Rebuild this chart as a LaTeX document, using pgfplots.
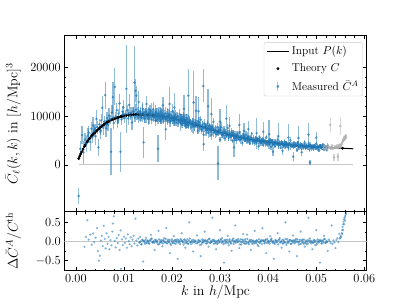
\RequirePackage{fix-cm}
\documentclass[border=0pt]{standalone}
\usepackage{fontspec}
\usepackage{pgfplots}
\pgfplotsset{compat=1.18}
\usepackage{pgfplotstable}
\definecolor{mplblue}{RGB}{31,119,180}

\pgfplotstableread{
k T
0.0006 1300
0.0008 1800
0.0010 2250
0.0012 2650
0.0015 3250
0.0020 4150
0.0025 4950
0.0030 5600
0.0035 6200
0.0040 6700
0.0045 7150
0.0050 7600
0.0055 8000
0.0060 8380
0.0065 8730
0.0070 9050
0.0075 9280
0.0080 9470
0.0085 9640
0.0090 9810
0.0095 9950
0.0100 10070
0.0110 10230
0.0120 10320
0.0130 10340
0.0140 10300
0.0150 10240
0.0160 10170
0.0170 10080
0.0180 9970
0.0190 9820
0.0200 9620
0.0210 9400
0.0220 9100
0.0230 8780
0.0240 8470
0.0250 8160
0.0260 7860
0.0270 7560
0.0280 7280
0.0290 7000
0.0300 6720
0.0310 6440
0.0320 6160
0.0330 5900
0.0340 5680
0.0350 5470
0.0360 5280
0.0370 5100
0.0380 4940
0.0390 4790
0.0400 4640
0.0410 4500
0.0420 4370
0.0430 4250
0.0440 4140
0.0450 4040
0.0460 3950
0.0470 3870
0.0480 3800
0.0490 3740
0.0500 3690
0.0510 3640
0.0520 3590
0.0530 3540
0.0540 3490
0.0550 3440
0.0560 3390
0.0570 3340
0.0577 3300
}\theory

\pgfplotstableread{
k T
0.0006 1300
0.0008 1800
0.0010 2250
0.0012 2650
0.0015 3250
0.0018 3800
0.0020 4150
0.0023 4650
0.0025 4950
0.0028 5350
0.0030 5600
0.0033 5960
0.0035 6200
0.0038 6500
0.0040 6700
0.0043 6970
0.0045 7150
0.0048 7420
0.0050 7600
0.0053 7840
0.0055 8000
0.0058 8240
0.0060 8380
0.0063 8590
0.0065 8730
0.0068 8920
0.0070 9050
0.0073 9190
0.0075 9280
0.0078 9400
0.0080 9470
0.0083 9570
0.0085 9640
0.0088 9740
0.0090 9810
0.0093 9890
0.0095 9950
0.0098 10020
0.0100 10070
0.0105 10150
0.0110 10230
0.0115 10280
0.0120 10320
0.0125 10335
0.0130 10340
0.0135 10320
0.0140 10300
0.0150 10240
0.0160 10170
0.0555 3420
}\theorydots

\pgfplotstableread{
k v e
0.0006 -6400 1700
0.0009 3300 1500
0.0013 6100 1900
0.0016 2600 2400
0.0019 5200 1400
0.0022 4300 1600
0.0025 6000 1500
0.0027 6600 1300
0.0030 4700 1800
0.0032 7400 1500
0.0034 5600 1200
0.0036 8100 1700
0.0038 6900 1100
0.0040 7300 1000
0.0041 5900 1900
0.0043 9400 1800
0.0045 7700 1300
0.0047 3600 1700
0.0049 8300 1200
0.0051 6800 1500
0.0052 7100 900
0.0053 9100 1300
0.0055 11700 2500
0.0057 7600 1400
0.0059 8900 1100
0.0061 14300 2800
0.0063 7500 1800
0.0064 8300 1000
0.0065 9600 1200
0.0067 8200 1300
0.0069 10100 1500
0.0071 9300 900
0.0073 2700 4800
0.0075 10700 1500
0.0077 13900 3200
0.0078 9700 900
0.0079 8600 1200
0.0081 16000 3800
0.0083 9900 1000
0.0085 11200 1400
0.0087 8800 1300
0.0088 9200 800
0.0089 10500 900
0.0091 12600 2000
0.0093 2700 4100
0.0095 9300 1100
0.0097 10900 1200
0.0098 10300 800
0.0099 11800 1600
0.0101 9600 1000
0.0103 10400 900
0.0105 15600 9000
0.0107 11200 1100
0.0109 9500 1300
0.0110 10600 900
0.0111 12300 2200
0.0113 10000 800
0.0115 10700 1100
0.0117 8700 1500
0.0119 11000 900
0.01205 10900 1000
0.0122 16900 7500
0.0123 9700 900
0.0124 15200 2400
0.0125 11300 1200
0.0126 14200 2000
0.0127 10100 800
0.0129 10800 1100
0.0130 9600 1000
0.0131 12900 2300
0.0132 10500 700
0.0134 11000 900
0.0135 9800 1100
0.0137 10300 800
0.0139 11500 1300
0.0141 4600 3200
0.0142 10200 900
0.0144 9500 1000
0.0146 10900 800
0.0147 12500 1600
0.0149 10000 700
0.0151 9400 1200
0.0152 10700 900
0.0154 11300 1000
0.0156 10100 700
0.0157 9300 1000
0.0159 10600 800
0.0161 11400 1500
0.0162 9800 700
0.0164 10300 900
0.0166 9100 1100
0.0167 10800 800
0.0169 10000 700
0.0171 3300 2800
0.0172 10500 900
0.0174 9600 800
0.0176 10900 1000
0.0177 9200 900
0.0179 10200 700
0.0181 12200 1800
0.0182 9700 800
0.0184 10400 900
0.0186 9400 700
0.0187 7300 2200
0.0189 10100 1000
0.0191 9100 800
0.0192 10500 900
0.0194 9800 700
0.0195 12500 3500
0.0196 8800 1000
0.0197 10300 800
0.0199 9500 700
0.0201 11000 1500
0.0202 9200 800
0.0204 9900 900
0.0205 11800 3000
0.0206 8700 700
0.0207 10200 1000
0.0209 9300 800
0.0211 8600 900
0.0212 9900 700
0.0214 9000 800
0.0216 10400 1100
0.0217 8800 700
0.0219 9500 900
0.0221 8400 800
0.0222 9300 700
0.0224 9900 1000
0.0225 11500 2800
0.0226 8500 800
0.0227 9100 700
0.0229 8200 900
0.0231 9400 1000
0.0232 8600 700
0.0234 14200 5500
0.0235 8100 800
0.0237 9000 900
0.0239 8500 700
0.0240 7700 900
0.0242 8900 800
0.0244 8200 700
0.0245 12800 6500
0.0247 7900 900
0.0249 8600 800
0.0250 11100 3000
0.0252 8390 810
0.0254 6980 560
0.0255 11000 3000
0.0256 8750 1040
0.0258 7730 630
0.0260 9270 860
0.0262 7140 470
0.0264 7830 1160
0.0265 16200 3400
0.0266 6200 690
0.0266 4250 1300
0.0268 8440 910
0.0270 7920 530
0.0272 7050 750
0.0274 8520 600
0.0275 12000 3500
0.0276 6590 1030
0.0278 7860 730
0.0280 7190 510
0.0282 6100 940
0.0282 10400 3400
0.0284 7770 570
0.0286 8820 780
0.0288 6720 420
0.0290 7170 1050
0.0292 6280 620
0.0294 7720 830
0.0296 6590 480
0.0296 300 3500
0.0298 7180 680
0.0300 5190 540
0.0300 8900 2500
0.0302 7780 930
0.0304 6130 660
0.0306 6550 460
0.0308 7200 840
0.0310 5510 520
0.0312 6610 700
0.0313 9500 2700
0.0314 5950 380
0.0316 7550 940
0.0318 5550 560
0.0320 6460 740
0.0320 8000 1800
0.0322 5960 430
0.0324 6860 610
0.0326 4920 480
0.0328 6380 830
0.0329 3560 1900
0.0330 5400 590
0.0332 6070 410
0.0334 5050 760
0.0336 6320 460
0.0338 5590 630
0.0340 6700 340
0.0340 8200 2200
0.0342 5160 850
0.0344 5660 500
0.0346 4490 670
0.0348 6110 390
0.0350 5730 550
0.0350 7000 1500
0.0352 5110 430
0.0354 6170 760
0.0356 4780 540
0.0358 5700 370
0.0359 7330 1700
0.0360 5220 690
0.0362 4430 420
0.0364 5650 570
0.0366 6410 310
0.0368 4890 770
0.0370 5220 460
0.0372 4580 610
0.0374 5640 350
0.0376 4820 500
0.0376 6500 3200
0.0378 5270 400
0.0380 3810 690
0.0382 5740 490
0.0384 4530 340
0.0386 4850 630
0.0388 5340 390
0.0390 4100 530
0.0390 6800 2000
0.0392 4930 290
0.0394 4450 710
0.0396 5660 420
0.0398 4170 560
0.0400 4860 330
0.0402 4500 460
0.0402 6300 3000
0.0404 5190 370
0.0406 3740 640
0.0408 4850 450
0.0410 4120 320
0.0410 2700 900
0.0412 4640 580
0.0414 3860 360
0.0416 4850 490
0.0418 4290 260
0.0420 5160 660
0.0421 5900 2600
0.0422 3980 390
0.0424 4370 520
0.0426 3470 300
0.0428 4740 430
0.0430 4450 340
0.0430 2900 800
0.0432 3970 590
0.0434 4810 420
0.0436 3730 290
0.0438 4460 540
0.0440 4090 330
0.0442 3480 450
0.0442 5600 2800
0.0444 4440 250
0.0446 5060 610
0.0448 3870 370
0.0450 4140 490
0.0452 3640 280
0.0452 1700 900
0.0454 4480 400
0.0456 3840 320
0.0458 4210 560
0.0460 3050 400
0.0462 4600 280
0.0463 5500 2500
0.0464 3640 510
0.0466 3900 310
0.0468 4310 430
0.0470 3310 230
0.0470 2600 700
0.0472 4000 580
0.0474 3610 350
0.0476 4610 460
0.0478 3400 270
0.0480 3980 380
0.0482 3700 300
0.0484 4270 530
0.0484 6200 2300
0.0486 3090 380
0.0487 470 500
0.0488 4020 260
0.0490 3430 490
0.0492 3860 300
0.0494 3230 410
0.0496 4070 220
0.0498 3610 560
0.0500 4350 330
0.0500 5600 1200
0.0502 3370 440
0.0504 3710 260
0.0506 2960 370
0.0508 4040 290
0.0510 3820 510
0.0512 3410 360
0.0514 4140 250
0.0516 3220 470
0.0518 3860 290
0.0520 3550 400
0.0522 3020 220
0.0524 3870 540
}\measured

\pgfplotstableread{
k v e r
0.0133 10040 990 -0.028
0.0135 10360 1360 0.004
0.0137 9650 740 -0.064
0.0139 10680 1850 0.036
0.0141 10460 1110 0.016
0.0143 10080 1480 -0.020
0.0145 10760 860 0.048
0.0147 9890 1230 -0.036
0.0149 10490 980 0.024
0.0151 10190 1720 -0.004
0.0153 9690 1230 -0.052
0.0155 10490 860 0.028
0.0157 11010 1590 0.080
0.0159 10010 980 -0.016
0.0161 10240 1340 0.008
0.0163 9820 730 -0.032
0.0165 10530 1820 0.040
0.0167 9990 1090 -0.012
0.0169 10290 1450 0.020
0.0171 9300 850 -0.076
0.0173 10610 1210 0.056
0.0175 9780 960 -0.024
0.0177 10000 1680 0.000
0.0179 10340 1200 0.036
0.0181 9480 840 -0.048
0.0183 10040 1550 0.012
0.0185 9700 950 -0.020
0.0187 10540 1300 0.068
0.0189 9480 710 -0.036
0.0191 9960 1760 0.016
0.0193 9680 1050 -0.008
0.0195 10150 1400 0.044
0.0197 9100 810 -0.060
0.0199 9870 1160 0.024
0.0201 9330 920 -0.028
0.0203 9670 1600 0.012
0.0205 9090 1140 -0.044
0.0207 9770 800 0.032
0.0209 9350 1470 -0.008
0.0211 9930 900 0.060
0.0213 9050 1230 -0.028
0.0215 9290 670 0.004
0.0217 8600 1650 -0.064
0.0219 9460 990 0.036
0.0221 9210 1310 0.016
0.0223 8820 760 -0.020
0.0225 9370 1070 0.048
0.0227 8560 850 -0.036
0.0229 9020 1480 0.024
0.0231 8710 1050 -0.004
0.0233 8240 730 -0.052
0.0235 8870 1350 0.028
0.0237 9250 820 0.080
0.0239 8370 1120 -0.016
0.0241 8510 610 0.008
0.0243 8110 1510 -0.032
0.0245 8650 900 0.040
0.0247 8150 1190 -0.012
0.0249 8360 690 0.020
0.0253 7810 1450 -0.032
0.0255 8330 870 0.040
0.0257 7860 1140 -0.012
0.0259 8050 660 0.020
0.0261 7240 940 -0.076
0.0263 8200 750 0.056
0.0265 7530 1300 -0.024
0.0267 7650 920 0.000
0.0269 7860 640 0.036
0.0271 7170 1180 -0.048
0.0273 7570 720 0.012
0.0275 7270 980 -0.020
0.0277 7870 530 0.068
0.0279 7050 1320 -0.036
0.0281 7370 780 0.016
0.0283 7140 1040 -0.008
0.0285 7450 600 0.044
0.0287 6660 850 -0.060
0.0289 7200 670 0.024
0.0291 6780 1170 -0.028
0.0293 7000 830 0.012
0.0295 6560 580 -0.044
0.0297 7020 1060 0.032
0.0299 6690 650 -0.008
0.0301 7090 880 0.060
0.0303 6450 480 -0.028
0.0305 6610 1180 0.004
0.0307 6110 700 -0.064
0.0309 6700 930 0.036
0.0311 6520 540 0.016
0.0313 6230 760 -0.020
0.0315 6600 600 0.048
0.0317 6020 1050 -0.036
0.0319 6340 740 0.024
0.0321 6110 520 -0.004
0.0323 5770 950 -0.052
0.0325 6200 580 0.028
0.0327 6460 790 0.080
0.0329 5830 430 -0.016
0.0331 5930 1060 0.008
0.0333 5650 630 -0.032
0.0335 6020 830 0.040
0.0337 5680 480 -0.012
0.0339 5820 680 0.020
0.0341 5230 540 -0.076
0.0343 5930 940 0.056
0.0345 5440 670 -0.024
0.0347 5530 460 0.000
0.0349 5690 860 0.036
0.0351 5190 520 -0.048
0.0353 5480 710 0.012
0.0355 5270 390 -0.020
0.0357 5700 960 0.068
0.0359 5110 570 -0.036
0.0361 5350 760 0.016
0.0363 5180 440 -0.008
0.0365 5420 620 0.044
0.0367 4850 490 -0.060
0.0369 5240 860 0.024
0.0371 4940 610 -0.028
0.0373 5110 420 0.012
0.0375 4800 780 -0.044
0.0377 5150 480 0.032
0.0379 4920 650 -0.008
0.0381 5220 350 0.060
0.0383 4760 880 -0.028
0.0385 4880 530 0.004
0.0387 4530 700 -0.064
0.0389 4980 400 0.036
0.0391 4850 570 0.016
0.0393 4650 460 -0.020
0.0395 4940 790 0.048
0.0397 4520 560 -0.036
0.0399 4770 390 0.024
0.0401 4610 720 -0.004
0.0403 4360 440 -0.052
0.0405 4700 600 0.028
0.0407 4910 330 0.080
0.0409 4440 810 -0.016
0.0411 4520 480 0.008
0.0413 4320 640 -0.032
0.0415 4610 370 0.040
0.0417 4360 530 -0.012
0.0419 4470 420 0.020
0.0421 4030 730 -0.076
0.0423 4580 520 0.056
0.0425 4210 360 -0.024
0.0427 4290 670 0.000
0.0429 4420 410 0.036
0.0431 4040 560 -0.048
0.0433 4270 300 0.012
0.0435 4110 760 -0.020
0.0437 4460 450 0.068
0.0439 4000 600 -0.036
0.0441 4200 350 0.016
0.0443 4080 490 -0.008
0.0445 4270 390 0.044
0.0447 3830 680 -0.060
0.0449 4150 490 0.024
0.0451 3920 340 -0.028
0.0453 4060 630 0.012
0.0455 3820 380 -0.044
0.0457 4100 530 0.032
0.0459 3930 290 -0.008
0.0461 4180 710 0.060
0.0463 3820 420 -0.028
0.0465 3930 560 0.004
0.0467 3650 330 -0.064
0.0469 4020 470 0.036
0.0471 3930 370 0.016
0.0473 3770 650 -0.020
0.0475 4020 460 0.048
0.0477 3680 320 -0.036
0.0479 3900 590 0.024
0.0481 3780 360 -0.004
0.0483 3590 500 -0.052
0.0485 3880 270 0.028
0.0487 4060 680 0.080
0.0489 3690 400 -0.016
0.0491 3770 540 0.008
0.0493 3610 310 -0.032
0.0495 3860 450 0.040
0.0497 3660 360 -0.012
0.0499 3770 620 0.020
0.0501 3410 440 -0.076
0.0503 3880 310 0.056
0.0505 3580 570 -0.024
0.0507 3660 350 0.000
0.0509 3780 480 0.036
0.0511 3460 260 -0.048
0.0513 3670 650 0.012
0.0515 3540 390 -0.020
0.0517 3850 520 0.068
0.0519 3470 300 -0.036
0.0521 3640 430 0.016
0.0523 3550 340 -0.008
}\measuredB

\pgfplotstableread{
k v e
0.0515 3400 300
0.0517 3900 400
0.0519 3300 250
0.0521 3700 350
0.0523 3200 300
0.0525 3800 400
0.0527 3500 300
0.0529 8200 1500
0.0529 3600 350
0.0531 3300 300
0.0533 3900 400
0.0535 3400 300
0.0537 1500 700
0.0539 3700 350
0.0541 3500 300
0.0543 3800 400
0.0545 3600 300
0.0545 1700 800
0.0547 3900 400
0.0549 4100 350
0.0550 8000 1800
0.0551 3800 500
0.0553 4300 400
0.0554 4600 450
0.0555 4900 400
0.0556 5200 500
0.0557 5000 400
0.0558 5500 450
0.0559 5300 500
0.0560 5700 500
0.0561 5600 450
0.0562 5900 500
}\masked

\pgfplotstableread{
k r
0.0018 -0.14
0.0021 0.12
0.0024 0.56
0.0027 0.05
0.0030 0.18
0.0033 -0.08
0.0036 0.21
0.0038 -0.02
0.0041 0.10
0.0044 0.35
0.0046 -0.25
0.0048 -0.50
0.0050 -0.37
0.0052 0.03
0.0054 0.15
0.0056 -0.12
0.0058 0.41
0.0060 0.07
0.0062 -0.18
0.0064 0.22
0.0066 -0.06
0.0068 0.12
0.0070 -0.20
0.0072 0.04
0.0074 -0.10
0.0076 0.26
0.0077 0.47
0.0079 0.66
0.0081 0.02
0.0083 -0.15
0.0085 0.09
0.0087 -0.04
0.0089 0.17
0.0091 -0.22
0.0093 0.29
0.0094 -0.71
0.0096 0.06
0.0098 -0.09
0.0100 0.13
0.0102 -0.03
0.0104 0.08
0.0106 -0.16
0.0108 0.19
0.0110 0.01
0.0112 -0.07
0.0114 0.11
0.0116 -0.12
0.0118 0.05
0.0120 0.15
0.0122 -0.05
0.0124 0.60
0.0126 0.03
0.0128 -0.10
0.0130 0.08
0.0132 -0.02
0.0134 0.12
0.0136 -0.08
0.0138 0.05
0.0140 -0.52
0.0142 0.02
0.0144 -0.06
0.0146 0.10
0.0148 -0.03
0.0150 0.02
0.0152 -0.05
0.0154 0.04
0.0156 0.18
0.0158 0.07
0.0160 -0.03
0.0162 0.00
0.0164 -0.22
0.0166 0.05
0.0168 0.01
0.0170 -0.04
0.0172 0.28
0.0174 -0.06
0.0176 0.03
0.0178 -0.02
0.0180 -0.12
0.0182 0.04
0.0184 0.09
0.0186 -0.01
0.0188 0.35
0.0190 -0.05
0.0192 0.05
0.0194 -0.02
0.0196 -0.30
0.0198 -0.09
0.0200 0.06
0.0202 -0.03
0.0204 0.14
0.0206 0.04
0.0208 -0.06
0.0210 0.02
0.0212 -0.45
0.0214 0.04
0.0216 -0.01
0.0218 0.07
0.0220 0.22
0.0222 0.00
0.0224 -0.08
0.0226 0.05
0.0228 -0.16
0.0230 -0.04
0.0232 0.06
0.0234 -0.06
0.0236 0.50
0.0238 -0.02
0.0240 -0.07
0.0242 0.04
0.0244 -0.26
0.0246 -0.01
0.0248 0.02
0.0250 -0.05
0.0252 0.16
0.0254 -0.02
0.0256 0.03
0.0258 -0.09
0.0260 -0.38
0.0262 -0.03
0.0264 0.01
0.0266 0.04
0.0268 0.26
0.0270 0.02
0.0272 -0.05
0.0274 0.04
0.0276 -0.13
0.0278 0.07
0.0280 -0.03
0.0282 0.00
0.0284 0.62
0.0286 0.05
0.0288 0.01
0.0290 -0.04
0.0292 -0.20
0.0294 -0.06
0.0296 0.03
0.0298 -0.02
0.0300 0.30
0.0302 0.04
0.0304 0.09
0.0306 -0.01
0.0308 -0.55
0.0310 -0.05
0.0312 0.05
0.0314 -0.02
0.0316 0.15
0.0318 -0.09
0.0320 0.06
0.0322 -0.03
0.0324 -0.24
0.0326 0.04
0.0328 -0.06
0.0330 0.02
0.0332 0.42
0.0334 0.04
0.0336 -0.01
0.0338 0.07
0.0340 -0.17
0.0342 0.00
0.0344 -0.08
0.0346 0.05
0.0348 0.20
0.0350 -0.04
0.0352 0.06
0.0354 -0.06
0.0356 0.18
0.0358 -0.02
0.0360 -0.07
0.0362 0.04
0.0364 -0.22
0.0366 -0.01
0.0368 0.02
0.0370 -0.05
0.0372 0.28
0.0374 -0.02
0.0376 0.03
0.0378 -0.09
0.0380 -0.12
0.0382 -0.03
0.0384 0.01
0.0386 0.04
0.0388 0.35
0.0390 0.02
0.0392 -0.05
0.0394 0.04
0.0396 -0.30
0.0398 0.07
0.0400 -0.03
0.0402 0.00
0.0404 0.14
0.0406 0.05
0.0408 0.01
0.0410 -0.04
0.0412 -0.45
0.0414 -0.06
0.0416 0.03
0.0418 -0.02
0.0420 0.22
0.0422 0.04
0.0424 0.09
0.0426 -0.01
0.0428 -0.16
0.0430 -0.05
0.0432 0.05
0.0434 -0.02
0.0436 0.50
0.0438 -0.09
0.0440 0.06
0.0442 -0.03
0.0444 -0.26
0.0446 0.04
0.0448 -0.06
0.0450 0.02
0.0452 0.16
0.0454 0.04
0.0456 -0.01
0.0458 0.07
0.0460 -0.38
0.0462 0.00
0.0464 -0.08
0.0466 0.05
0.0468 0.26
0.0470 -0.04
0.0472 0.06
0.0474 -0.06
0.0476 -0.13
0.0478 -0.02
0.0480 -0.07
0.0482 0.04
0.0484 0.62
0.0486 -0.01
0.0488 0.02
0.0490 -0.05
0.0492 -0.20
0.0494 -0.02
0.0496 0.03
0.0498 -0.09
0.0500 0.30
0.0502 -0.03
0.0504 0.01
0.0506 0.04
0.0508 -0.55
0.0510 0.02
0.0512 -0.05
0.0514 0.04
0.0516 0.15
0.0518 0.07
0.0520 -0.03
0.0522 0.00
0.0524 -0.24
0.0526 0.05
0.0528 0.01
0.0530 -0.04
0.0532 0.42
0.0534 -0.06
0.0536 0.03
0.0538 -0.02
0.0540 -0.17
0.0542 0.04
0.0544 0.09
0.0546 -0.01
0.0548 0.20
0.0549 0.08
0.0550 0.10
0.0551 0.15
0.0552 0.12
0.0553 0.22
0.0554 0.30
0.0554 0.20
0.0555 0.38
0.0556 0.45
0.0556 0.30
0.0557 0.52
0.0558 0.58
0.0558 0.45
0.0559 0.62
0.0560 0.66
0.0560 0.55
0.0561 0.70
0.0562 0.74
}\resid

\pgfplotsset{
  mplframe/.style={
    scale only axis, width=302.4bp,
    xmin=-0.0024, xmax=0.0605,
    xtick={0,0.01,0.02,0.03,0.04,0.05,0.06},
    minor x tick num=4,
    tick align=inside,
    major tick length=3.5bp, minor tick length=2bp,
    axis line style={line width=0.8bp},
    every tick/.style={black, line width=0.6bp},
    tick label style={font=\fontsize{12.5}{15}\selectfont},
    scaled ticks=false,
    every axis y label/.style={at={(axis description cs:-0.168,0.5)}, rotate=90, anchor=center, font=\fontsize{14}{17}\selectfont},
  },
  bluepts/.style={mplblue, forget plot, only marks, mark=*, mark size=1.4bp,
    mark options={draw opacity=0, fill opacity=0.7},
    error bars/.cd, y dir=both, y explicit, error mark=none,
    error bar style={line width=1.3bp, opacity=0.5}},
}

\begin{document}
\begin{tikzpicture}
\path[use as bounding box] (0,0) rectangle (407bp,305bp);
\begin{axis}[mplframe,
  at={(64.3bp,93.3bp)}, anchor=south west, height=176bp,
  ymin=-9600, ymax=26500,
  ytick={0,10000,20000}, minor y tick num=4,
  xticklabels={},
  yticklabel style={/pgf/number format/1000 sep={}},
  ylabel={$\bar{C}_\ell(k,k)$ in $[h/\mathrm{Mpc}]^3$},
  legend style={at={(1,1)}, anchor=north east, xshift=-4bp, yshift=-6.5bp,
    draw=black!20, rounded corners=2bp, fill=white, fill opacity=0.85, text opacity=1,
    font=\fontsize{11.5}{13}\selectfont, inner sep=2bp, row sep=3.5bp},
  legend cell align=left,
]
\addplot[gray!45, line width=1.2bp, forget plot] coordinates {(0.0006,0) (0.0577,0)};
\addplot[black, line width=1.0bp, forget plot] table[x=k,y=T]{\theory};
\addplot[black, only marks, mark=*, mark size=1.2bp, forget plot] table[x=k,y=T]{\theorydots};
\addplot[bluepts] table[x=k,y=v,y error=e]{\measured};
\addplot[bluepts] table[x=k,y=v,y error=e]{\measuredB};
\addplot[black!30, forget plot, only marks, mark=*, mark size=1.4bp, mark options={draw opacity=0, fill opacity=0.8},
  error bars/.cd, y dir=both, y explicit, error mark=none,
  error bar style={line width=1.3bp, opacity=0.55}]
  table[x=k,y=v,y error=e]{\masked};
\addlegendimage{legend image code/.code={\draw[black, line width=1.1bp] (0cm,0cm)--(0.8cm,0cm);}}
\addlegendentry{Input $P(k)$}
\addlegendimage{legend image code/.code={\fill[black] (0.4cm,0cm) circle (1.3bp);}}
\addlegendentry{Theory $C$}
\addlegendimage{legend image code/.code={\draw[mplblue, opacity=0.4, line width=1.1bp] (0.4cm,-0.15cm)--(0.4cm,0.15cm); \fill[mplblue, opacity=0.6] (0.4cm,0cm) circle (1.3bp);}}
\addlegendentry{Measured $\bar{C}^A$}
\end{axis}
\begin{axis}[mplframe,
  at={(64.3bp,34.3bp)}, anchor=south west, height=59bp,
  ymin=-0.76, ymax=0.78,
  ytick={-0.5,0,0.5}, minor y tick num=1,
  xticklabel style={/pgf/number format/.cd, fixed, fixed zerofill, precision=2},
  yticklabel style={/pgf/number format/.cd, fixed, fixed zerofill, precision=1},
  ylabel={$\Delta\bar{C}^A/C^{\mathrm{th}}$},
  xlabel={$k$ in $h/\mathrm{Mpc}$},
  every axis x label/.style={at={(axis description cs:0.5,-0.36)}, anchor=center, font=\fontsize{14}{17}\selectfont},
]
\addplot[gray!45, line width=1.2bp] coordinates {(-0.0024,0) (0.0605,0)};
\addplot[mplblue, only marks, mark=*, mark size=1.25bp, mark options={draw opacity=0, fill opacity=0.55}] table[x=k,y=r]{\resid};
\addplot[mplblue, only marks, mark=*, mark size=1.25bp, mark options={draw opacity=0, fill opacity=0.6}] table[x=k,y=r]{\measuredB};
\end{axis}
\end{tikzpicture}
\end{document}
